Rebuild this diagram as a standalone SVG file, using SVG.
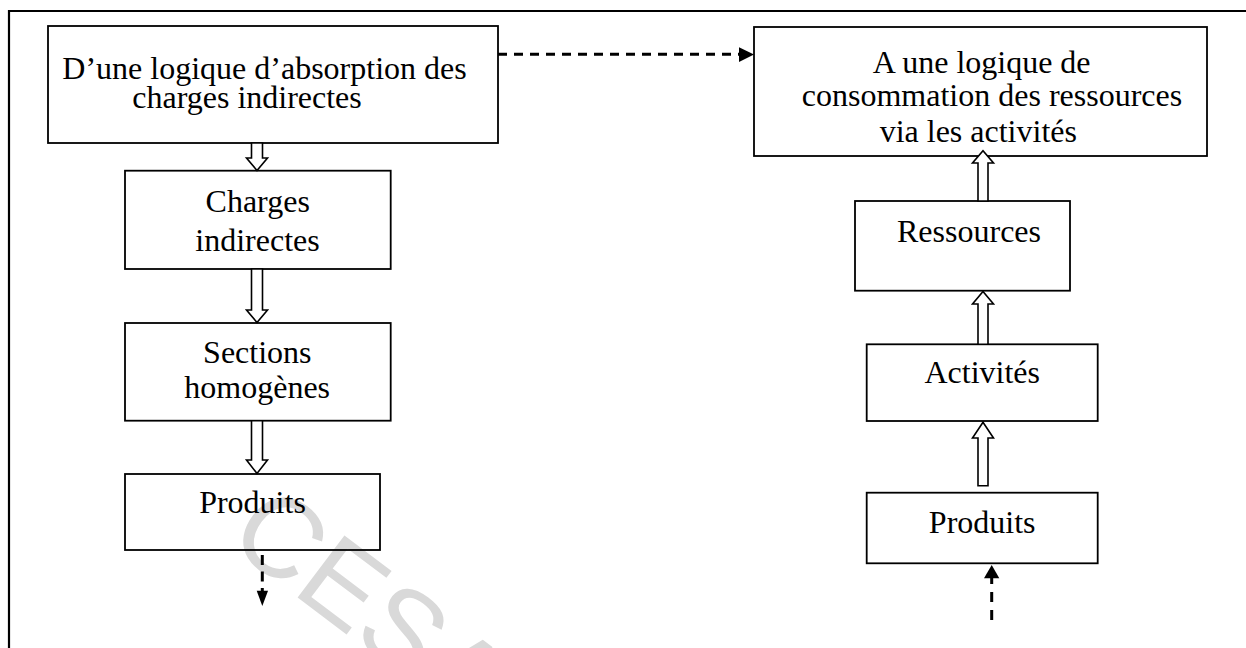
<svg xmlns="http://www.w3.org/2000/svg" width="1246" height="648" viewBox="0 0 1246 648">
<style>
.box{fill:none;stroke:#000;stroke-width:1.8}
.t{font-family:"Liberation Serif","Times New Roman",serif;font-size:32px;fill:#000;text-anchor:middle}
.hollow{fill:#fff;stroke:#000;stroke-width:1.6;stroke-linejoin:miter}
.dash{stroke:#000;stroke-width:3;fill:none}
.head{fill:#000}
.wm{font-family:"Liberation Sans",Arial,sans-serif;font-size:113px;fill:#d9d9d9}
</style>
<rect width="1246" height="648" fill="#fff"/>
<text class="wm" x="225" y="543" transform="rotate(37 225 543)">CESA</text>
<path d="M9 648 V11 H1246" fill="none" stroke="#000" stroke-width="2.2"/>
<g id="n1"><rect class="box" x="48" y="26" width="450" height="117"/><text class="t" x="264.5" y="79">D’une logique d’absorption des</text><text class="t" x="247" y="108">charges indirectes</text></g>
<g id="n2"><rect class="box" x="754" y="27" width="453" height="129"/><text class="t" x="981.7" y="73">A une logique de</text><text class="t" x="992" y="106">consommation des ressources</text><text class="t" x="978.3" y="142">via les activités</text></g>
<g id="n3"><rect class="box" x="125" y="170.7" width="265.7" height="98.3"/><text class="t" x="257.7" y="211.7">Charges</text><text class="t" x="257.5" y="251">indirectes</text></g>
<g id="n4"><rect class="box" x="125" y="323" width="265.7" height="97.7"/><text class="t" x="257.3" y="363">Sections</text><text class="t" x="257.2" y="398">homogènes</text></g>
<g id="n5"><rect class="box" x="125" y="474" width="255" height="76"/><text class="t" x="252.5" y="513">Produits</text></g>
<g id="n6"><rect class="box" x="855" y="201" width="215" height="89.7"/><text class="t" x="969" y="242">Ressources</text></g>
<g id="n7"><rect class="box" x="866.7" y="344.3" width="231" height="76.7"/><text class="t" x="982.2" y="383">Activités</text></g>
<g id="n8"><rect class="box" x="866.7" y="492.7" width="231" height="70.6"/><text class="t" x="982.2" y="533">Produits</text></g>
<g id="connectors">
<line class="dash" x1="498" y1="54.3" x2="740" y2="54.3" stroke-dasharray="9 7"/>
<polygon class="head" points="739,47.3 754,54.5 739,62"/>
<polygon class="hollow" points="251.5,143 262.5,143 262.5,158 267.5,158 257,170.5 246.5,158 251.5,158"/>
<polygon class="hollow" points="251.5,269 262.5,269 262.5,310 267.5,310 257,322.5 246.5,310 251.5,310"/>
<polygon class="hollow" points="251.5,420.7 262.5,420.7 262.5,460 267.5,460 257,473.5 246.5,460 251.5,460"/>
<polygon class="hollow" points="978,201 988,201 988,163 993.5,163 983,150.7 972.5,163 978,163"/>
<polygon class="hollow" points="978,344.3 988,344.3 988,304 993.5,304 983,291.5 972.5,304 978,304"/>
<polygon class="hollow" points="978,485.7 988,485.7 988,438 993.5,438 983,422.3 972.5,438 978,438"/>
<line class="dash" x1="262.3" y1="555" x2="262.3" y2="591" stroke-dasharray="10 6.5"/>
<polygon class="head" points="256.7,590.7 268,590.7 262.3,606"/>
<line class="dash" x1="991.7" y1="620" x2="991.7" y2="578" stroke-dasharray="10 8"/>
<polygon class="head" points="984,578.3 999.3,578.3 991.7,565"/>
</g>
</svg>
